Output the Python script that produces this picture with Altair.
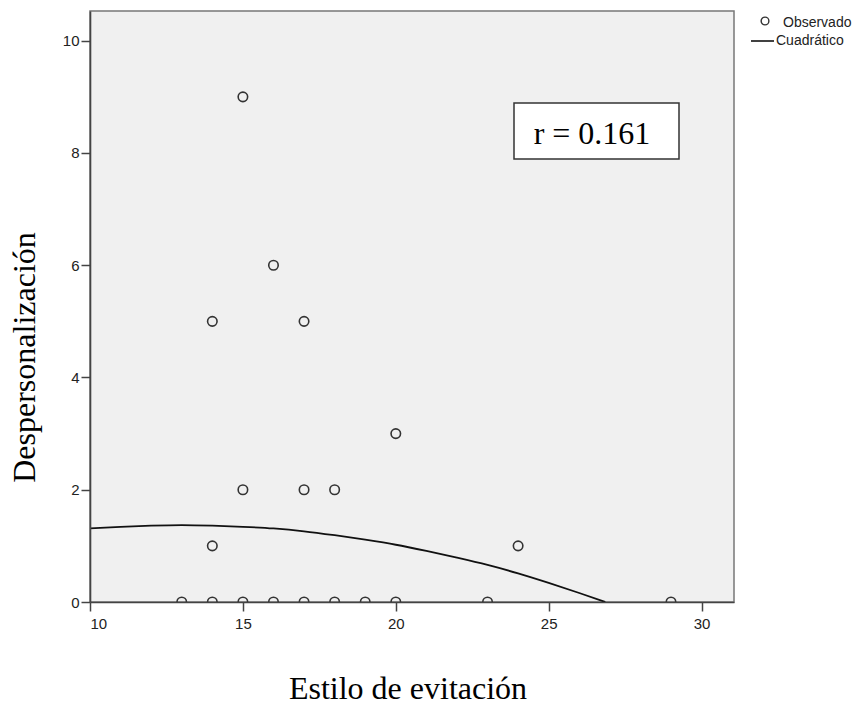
import altair as alt
import pandas as pd

# Observed cases: avoidance style score vs. depersonalization score
estilo = [13, 14, 15, 16, 17, 18, 19, 20, 23, 29, 14, 14, 15, 15, 16, 17, 17, 18, 20, 24]
despers = [0, 0, 0, 0, 0, 0, 0, 0, 0, 0, 1, 5, 2, 9, 6, 5, 2, 2, 3, 1]

# Quadratic fit curve, sampled along the x range until it meets zero
curva_x = [10, 11, 12, 13, 14, 15, 16, 17, 18, 19, 20, 21, 22, 23, 24, 25, 26, 26.85]
curva_y = [1.31, 1.34, 1.36, 1.37, 1.36, 1.34, 1.31, 1.26, 1.19, 1.11, 1.02, 0.91,
           0.79, 0.66, 0.51, 0.34, 0.16, 0.0]

r_label = ["r = 0.161"]
legend_labels = ["Observado", "Cuadrático"]
x_ticks = [10, 15, 20, 25, 30]
y_ticks = [0, 2, 4, 6, 8, 10]

W, H = 644, 591

pts = pd.DataFrame({"estilo": estilo, "despers": despers})
fit = pd.DataFrame({"estilo": curva_x, "despers": curva_y})
ann = pd.DataFrame({"r": r_label})
leg = pd.DataFrame({"lab": legend_labels})

x_enc = alt.X(
    "estilo:Q",
    scale=alt.Scale(domain=[10, 31.06], nice=False, zero=False),
    axis=alt.Axis(
        values=x_ticks, format="d", title="Estilo de evitación", labelPadding=5,
        titleX=317.5, titleY=96, titleAlign="center", titleBaseline="alphabetic",
        zindex=1,
    ),
)
y_enc = alt.Y(
    "despers:Q",
    scale=alt.Scale(domain=[0, 10.53], nice=False, zero=False),
    axis=alt.Axis(
        values=y_ticks, format="d", title="Despersonalización", labelPadding=2,
        titleX=-56, titleY=346, titleAngle=270, titleAlign="center",
        titleBaseline="alphabetic", zindex=1,
    ),
)

points = alt.Chart(pts).mark_point(
    shape="circle", filled=False, size=90, strokeWidth=1.6, color="#333333",
    opacity=1, clip=True,
).encode(x=x_enc, y=y_enc)

curve = alt.Chart(fit).mark_line(
    color="#111111", strokeWidth=1.8, clip=True, interpolate="monotone"
).encode(x="estilo:Q", y="despers:Q")

box = alt.Chart(ann).mark_rect(fill="white", stroke="#333333", strokeWidth=1.5).encode(
    x=alt.value(424), x2=alt.value(589), y=alt.value(92), y2=alt.value(148)
)
r_text = alt.Chart(ann).mark_text(
    font="Liberation Serif", fontSize=32, align="center", baseline="alphabetic",
    color="black",
).encode(x=alt.value(502), y=alt.value(132.5), text="r:N")

# Legend drawn to the right of the plot area
leg_circle = alt.Chart(ann).mark_point(
    shape="circle", filled=False, size=60, strokeWidth=1.4, color="#333333", opacity=1
).encode(x=alt.value(675), y=alt.value(10))
leg_line = alt.Chart(ann).mark_rule(color="#111111", strokeWidth=1.6).encode(
    x=alt.value(661), x2=alt.value(684), y=alt.value(30)
)
leg_obs = alt.Chart(leg).transform_filter(alt.datum.lab == "Observado").mark_text(
    font="Liberation Sans", fontSize=14, align="left", baseline="middle", color="#222222"
).encode(x=alt.value(693), y=alt.value(12), text="lab:N")
leg_cua = alt.Chart(leg).transform_filter(alt.datum.lab == "Cuadrático").mark_text(
    font="Liberation Sans", fontSize=14, align="left", baseline="middle", color="#222222"
).encode(x=alt.value(686), y=alt.value(30), text="lab:N")

chart = alt.layer(
    points, curve, box, r_text, leg_circle, leg_line, leg_obs, leg_cua
).properties(
    width=W, height=H,
    autosize=alt.AutoSizeParams(type="none"),
    padding={"left": 90, "top": 11, "right": 129, "bottom": 102},
    background="white",
).configure_view(
    fill="#f0f0f0", stroke="#777777", strokeWidth=1.5
).configure_axis(
    grid=False,
    domainColor="#444444", domainWidth=1.6,
    tickColor="#444444", tickWidth=1.5, tickSize=9,
    labelFont="Liberation Sans", labelFontSize=15, labelColor="#222222",
    titleFont="Liberation Serif", titleFontSize=32, titleFontWeight="normal",
    titleColor="black",
)

chart.save("out.html", embed_options={"renderer": "svg", "actions": False})
